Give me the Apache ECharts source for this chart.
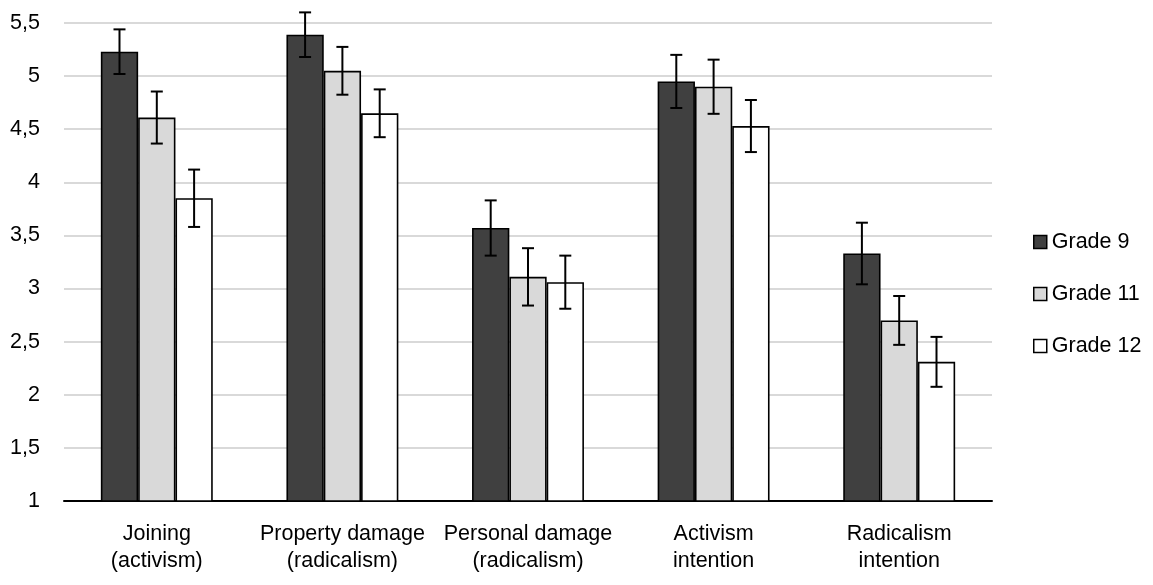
<!DOCTYPE html>
<html>
<head>
<meta charset="utf-8">
<script src="https://cdn.jsdelivr.net/npm/echarts@6/dist/echarts.min.js"></script>
<style>html,body{margin:0;padding:0;background:#fff}#c{width:1153px;height:585px}</style>
</head>
<body>
<div id="c"></div>
<script>
const categories = ["Joining\n(activism)", "Property damage\n(radicalism)", "Personal damage\n(radicalism)", "Activism\nintention", "Radicalism\nintention"];
const seriesNames = ["Grade 9", "Grade 11", "Grade 12"];
const grade9 = [5.23, 5.39, 3.57, 4.95, 3.33];
const grade11 = [4.61, 5.05, 3.11, 4.90, 2.70];
const grade12 = [3.85, 4.65, 3.06, 4.53, 2.31];
const err9 = [0.21, 0.21, 0.26, 0.25, 0.29];
const err11 = [0.245, 0.225, 0.27, 0.255, 0.23];
const err12 = [0.27, 0.225, 0.25, 0.245, 0.235];
const yTicks = ["1", "1,5", "2", "2,5", "3", "3,5", "4", "4,5", "5", "5,5"];

const values = [grade9, grade11, grade12];
const errs = [err9, err11, err12];
const fills = ["#404040", "#d9d9d9", "#ffffff"];
const catGap = 0.397;
const FONT = "'Liberation Sans', Arial, sans-serif";
const FS = 21.5;

const series = [];
values.forEach((v, i) => {
  series.push({
    name: seriesNames[i], type: 'bar', data: v, barGap: '0%', barCategoryGap: (catGap * 100) + '%',
    itemStyle: { color: fills[i], borderColor: '#000', borderWidth: 1.6 },
    z: 2
  });
});
values.forEach((v, i) => {
  series.push({
    type: 'custom', name: seriesNames[i] + ' err', z: 5, silent: true,
    data: v.map((val, k) => [k, val - errs[i][k], val + errs[i][k]]),
    encode: { x: 0, y: [1, 2] },
    renderItem: function (params, api) {
      const k = api.value(0);
      const lo = api.coord([k, api.value(1)]);
      const hi = api.coord([k, api.value(2)]);
      const band = api.size([1, 0])[0];
      const bw = band * (1 - catGap) / 3;
      const x = lo[0] + (i - 1) * bw;
      const cap = 6;
      const st = { stroke: '#000', lineWidth: 2 };
      return { type: 'group', children: [
        { type: 'line', shape: { x1: x, y1: lo[1], x2: x, y2: hi[1] }, style: st },
        { type: 'line', shape: { x1: x - cap, y1: lo[1], x2: x + cap, y2: lo[1] }, style: st },
        { type: 'line', shape: { x1: x - cap, y1: hi[1], x2: x + cap, y2: hi[1] }, style: st }
      ]};
    }
  });
});

const chart = echarts.init(document.getElementById('c'), null, { renderer: 'canvas' });
chart.setOption({
  animation: false,
  textStyle: { fontFamily: FONT },
  grid: { left: 64, right: 161, top: 23, bottom: 84, containLabel: false },
  legend: {
    data: seriesNames, orient: 'vertical', left: 1028, top: 226, itemGap: 30,
    itemWidth: 13, itemHeight: 13, icon: 'rect',
    textStyle: { fontSize: FS, color: '#000', fontFamily: FONT },
    itemStyle: { borderColor: '#000', borderWidth: 1.5 }
  },
  xAxis: {
    type: 'category', data: categories,
    axisLine: { lineStyle: { color: '#000', width: 2 } },
    axisTick: { show: false },
    axisLabel: { color: '#000', fontSize: FS, lineHeight: 27, margin: 20, interval: 0, fontFamily: FONT }
  },
  yAxis: {
    type: 'value', min: 1, max: 5.5, interval: 0.5,
    axisLine: { show: false }, axisTick: { show: false },
    splitLine: { lineStyle: { color: '#d9d9d9', width: 2 } },
    axisLabel: { color: '#000', fontSize: FS, margin: 24, fontFamily: FONT,
      formatter: v => yTicks[Math.round((v - 1) / 0.5)] }
  },
  series: series
});
</script>
</body>
</html>
